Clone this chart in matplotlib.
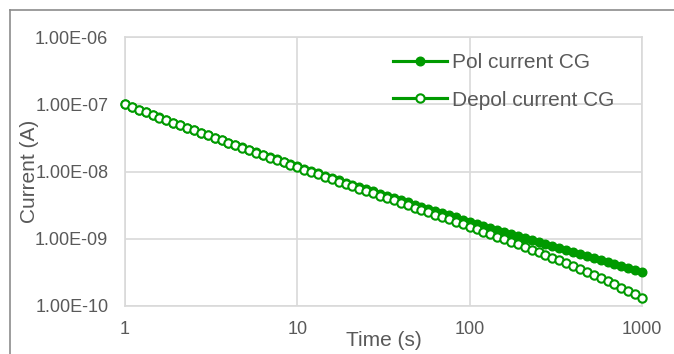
import matplotlib
matplotlib.use("Agg")
import matplotlib.pyplot as plt
from matplotlib.lines import Line2D
from matplotlib.ticker import FixedLocator, FuncFormatter, NullLocator

# ---------------------------------------------------------------------------
# Data - polarisation / depolarisation current, log-spaced time steps
# ---------------------------------------------------------------------------

time_s = [
    1.000, 1.096, 1.202, 1.318, 1.445, 1.585, 1.738, 1.905, 2.089, 2.291,
    2.512, 2.754, 3.020, 3.311, 3.631, 3.981, 4.365, 4.786, 5.248, 5.754,
    6.310, 6.918, 7.586, 8.318, 9.120,
    10.00, 10.96, 12.02, 13.18, 14.45, 15.85, 17.38, 19.05, 20.89, 22.91,
    25.12, 27.54, 30.20, 33.11, 36.31, 39.81, 43.65, 47.86, 52.48, 57.54,
    63.10, 69.18, 75.86, 83.18, 91.20,
    100.0, 109.6, 120.2, 131.8, 144.5, 158.5, 173.8, 190.5, 208.9, 229.1,
    251.2, 275.4, 302.0, 331.1, 363.1, 398.1, 436.5, 478.6, 524.8, 575.4,
    631.0, 691.8, 758.6, 831.8, 912.0,
    1000.0,
]

pol_current = [
    1.00e-7, 9.13e-8, 8.34e-8, 7.63e-8, 6.97e-8, 6.38e-8, 5.84e-8, 5.35e-8, 4.90e-8, 4.50e-8,
    4.12e-8, 3.78e-8, 3.47e-8, 3.19e-8, 2.93e-8, 2.69e-8, 2.48e-8, 2.28e-8, 2.10e-8, 1.93e-8,
    1.78e-8, 1.64e-8, 1.51e-8, 1.40e-8, 1.29e-8,
    1.19e-8, 1.10e-8, 1.01e-8, 9.37e-9, 8.67e-9, 8.01e-9, 7.42e-9, 6.86e-9, 6.36e-9, 5.89e-9,
    5.45e-9, 5.05e-9, 4.69e-9, 4.35e-9, 4.03e-9, 3.74e-9, 3.47e-9, 3.22e-9, 2.99e-9, 2.78e-9,
    2.59e-9, 2.40e-9, 2.24e-9, 2.08e-9, 1.93e-9,
    1.80e-9, 1.68e-9, 1.56e-9, 1.45e-9, 1.35e-9, 1.26e-9, 1.18e-9, 1.10e-9, 1.02e-9, 9.53e-10,
    8.89e-10, 8.29e-10, 7.74e-10, 7.23e-10, 6.75e-10, 6.30e-10, 5.88e-10, 5.50e-10, 5.13e-10, 4.80e-10,
    4.48e-10, 4.19e-10, 3.92e-10, 3.66e-10, 3.42e-10,
    3.20e-10,
]

depol_current = [
    9.97e-8, 9.10e-8, 8.31e-8, 7.60e-8, 6.94e-8, 6.35e-8, 5.81e-8, 5.32e-8, 4.87e-8, 4.47e-8,
    4.09e-8, 3.75e-8, 3.44e-8, 3.16e-8, 2.90e-8, 2.66e-8, 2.45e-8, 2.25e-8, 2.07e-8, 1.90e-8,
    1.75e-8, 1.61e-8, 1.48e-8, 1.37e-8, 1.26e-8,
    1.16e-8, 1.07e-8, 9.78e-9, 9.05e-9, 8.35e-9, 7.69e-9, 7.10e-9, 6.54e-9, 6.04e-9, 5.57e-9,
    5.14e-9, 4.74e-9, 4.38e-9, 4.04e-9, 3.72e-9, 3.43e-9, 3.16e-9, 2.91e-9, 2.68e-9, 2.47e-9,
    2.28e-9, 2.10e-9, 1.94e-9, 1.78e-9, 1.63e-9,
    1.50e-9, 1.38e-9, 1.27e-9, 1.17e-9, 1.07e-9, 9.83e-10, 9.07e-10, 8.31e-10, 7.57e-10, 6.91e-10,
    6.31e-10, 5.76e-10, 5.23e-10, 4.77e-10, 4.33e-10, 3.92e-10, 3.55e-10, 3.21e-10, 2.89e-10, 2.61e-10,
    2.33e-10, 2.10e-10, 1.88e-10, 1.69e-10, 1.50e-10,
    1.33e-10,
]

x_ticks = [1, 10, 100, 1000]
y_ticks = [1e-10, 1e-9, 1e-8, 1e-7, 1e-6]

GREEN     = "#009a00"
GRID      = "#d9d9d9"
TEXT_GREY = "#595959"

plt.rcParams["font.family"] = ["Liberation Sans", "DejaVu Sans"]

# ---------------------------------------------------------------------------
# Figure
# ---------------------------------------------------------------------------

fig = plt.figure(figsize=(6.74, 3.54), dpi=100)
ax = fig.add_axes([125 / 674, 1 - 306 / 354, (642 - 125) / 674, (306 - 37) / 354])

ax.plot(time_s, pol_current, color=GREEN, lw=2.25, marker="o", ms=6.2,
        mfc=GREEN, mec=GREEN, mew=1.0, label="Pol current CG", clip_on=False, zorder=3)
ax.plot(time_s, depol_current, color=GREEN, lw=2.25, marker="o", ms=6.0,
        mfc="white", mec=GREEN, mew=1.5, label="Depol current CG", clip_on=False, zorder=4)

ax.set_xscale("log")
ax.set_yscale("log")
ax.set_xlim(1, 1000)
ax.set_ylim(1e-10, 1e-6)

ax.xaxis.set_major_locator(FixedLocator(x_ticks))
ax.yaxis.set_major_locator(FixedLocator(y_ticks))
ax.xaxis.set_minor_locator(NullLocator())
ax.yaxis.set_minor_locator(NullLocator())
ax.xaxis.set_major_formatter(FuncFormatter(lambda v, p: f"{v:g}"))
ax.yaxis.set_major_formatter(FuncFormatter(lambda v, p: f"{v:.2E}"))

ax.tick_params(axis="both", length=0, labelsize=13, labelcolor=TEXT_GREY)
ax.tick_params(axis="x", pad=11)
ax.tick_params(axis="y", pad=12)

ax.grid(True, color=GRID, lw=1.2)
ax.set_axisbelow(True)
for side in ax.spines.values():
    side.set_color(GRID)
    side.set_linewidth(1.2)

ax.set_xlabel("Time (s)", fontsize=15, color=TEXT_GREY)
ax.set_ylabel("Current (A)", fontsize=15, color=TEXT_GREY)
ax.xaxis.set_label_coords(0.5, -(331 - 306) / 269, transform=ax.transAxes)
ax.yaxis.set_label_coords(-(125 - 39) / 517, 0.5, transform=ax.transAxes)

leg = ax.legend(loc="upper left", bbox_to_anchor=(393 / 674, 1 - 53 / 354),
                bbox_transform=fig.transFigure, frameon=False, fontsize=15,
                handlelength=2.6, handletextpad=0.25, labelspacing=0.9,
                borderpad=0, borderaxespad=0)
for t in leg.get_texts():
    t.set_color(TEXT_GREY)

# chart border (top and left edges)
fig.add_artist(Line2D([10 / 674, 1], [1 - 10 / 354] * 2, transform=fig.transFigure,
                      color="#8c8c8c", lw=1.2))
fig.add_artist(Line2D([10 / 674] * 2, [0, 1 - 10 / 354], transform=fig.transFigure,
                      color="#8c8c8c", lw=1.2))

fig.savefig("out.png", dpi=100)
